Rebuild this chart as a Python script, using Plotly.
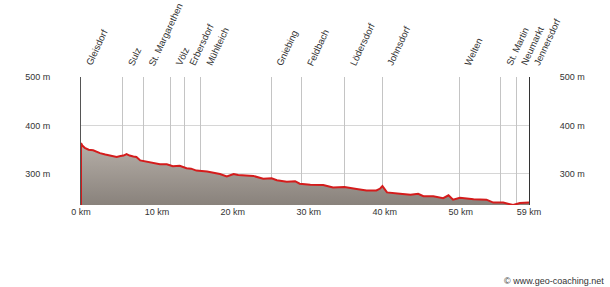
import plotly.graph_objects as go

dist_km = [0, 0.2, 0.5, 1.0, 1.6, 2.0, 2.5, 3.2, 3.8, 4.3, 4.7, 5.2, 5.6, 6.0, 6.4,
           6.9, 7.3, 7.8, 8.4, 9.1, 9.7, 10.4, 11.3, 12.1, 13.0, 13.9, 14.5, 15.2,
           16.6, 17.5, 18.3, 19.2, 20.1, 20.7, 21.4, 22.7, 24.0, 25.1, 25.8, 27.1,
           28.2, 28.8, 30.2, 31.9, 33.2, 34.7, 36.3, 37.6, 38.9, 39.4, 39.7, 40.3,
           42.0, 43.4, 44.4, 45.1, 46.4, 47.7, 48.4, 49.0, 49.9, 51.7, 53.4, 54.3,
           55.6, 56.9, 57.8, 58.5, 59.0]
elev_m = [364, 358, 354, 350, 349, 346, 343, 340, 338, 337, 335, 337, 338, 341, 338,
          336, 335, 328, 326, 324, 322, 320, 320, 316, 317, 312, 311, 307, 305, 303,
          300, 295, 300, 298, 297, 296, 290, 291, 287, 284, 285, 280, 278, 277, 272,
          273, 269, 266, 266, 270, 275, 262, 259, 257, 259, 254, 254, 250, 256, 247,
          251, 248, 247, 241, 241, 236, 240, 241, 241]

village_names = ["Gleisdorf", "Sulz", "St. Margarethen", "Völz", "Erbersdorf", "Mühlteich",
                 "Gniebing", "Feldbach", "Lödersdorf", "Johnsdorf", "Welten", "St. Martin",
                 "Neumarkt", "Jennersdorf"]
village_km = [0, 5.5, 8.2, 11.8, 13.6, 15.8, 25.1, 29.1, 34.7, 39.7, 49.9, 55.3, 57.3, 59]

x_ticks = [0, 10, 20, 30, 40, 50, 59]
y_ticks = [300, 400, 500]
y_range = [236, 500]

RED = "#d41c1c"
TXT = "#333333"
FONT = "Liberation Sans, Arial, sans-serif"

fig = go.Figure()
# invisible helper traces to bind the overlay axes
fig.add_trace(go.Scatter(x=[village_km[0]], y=[elev_m[0]], xaxis="x2", mode="markers",
                         marker=dict(opacity=0), hoverinfo="skip", showlegend=False))
fig.add_trace(go.Scatter(x=[dist_km[0]], y=[elev_m[0]], yaxis="y2", mode="markers",
                         marker=dict(opacity=0), hoverinfo="skip", showlegend=False))
fig.add_trace(go.Scatter(
    x=dist_km, y=elev_m, mode="lines", fill="tozeroy",
    line=dict(color=RED, width=2),
    fillgradient=dict(type="vertical",
                      colorscale=[[0, "#3e3835"], [0.55, "#7c756f"], [1, "#b6afa8"]]),
    hoverinfo="skip", showlegend=False))
# left red edge of the profile
fig.add_trace(go.Scatter(
    x=[dist_km[0], dist_km[0]], y=[y_range[0], elev_m[0]], mode="lines",
    line=dict(color=RED, width=2), hoverinfo="skip", showlegend=False))

for name, km in zip(village_names, village_km):
    fig.add_annotation(x=km, y=1, xref="x", yref="paper", text=name, showarrow=False,
                       textangle=-65, xanchor="left", yanchor="bottom", xshift=0, yshift=7,
                       font=dict(family=FONT, size=9.5, color=TXT))

fig.add_annotation(x=1, y=0, xref="paper", yref="paper", text="© www.geo-coaching.net",
                   showarrow=False, xanchor="right", yanchor="middle", xshift=77, yshift=-76,
                   font=dict(family=FONT, size=9, color=TXT))

fig.update_layout(
    width=610, height=287,
    margin=dict(l=81, r=81, t=77, b=82),
    paper_bgcolor="white", plot_bgcolor="white",
    font=dict(family=FONT, size=9, color=TXT),
    xaxis=dict(range=[0, 59], tickvals=x_ticks, ticktext=[f"{v} km" for v in x_ticks],
               showgrid=False, zeroline=False, showline=False, ticks="",
               ticklabelstandoff=0, tickfont=dict(size=9, color=TXT)),
    xaxis2=dict(range=[0, 59], overlaying="x", side="top", tickvals=village_km,
                showticklabels=False, showgrid=True, gridcolor="#c4c4c4", gridwidth=1,
                zeroline=False, ticks="", showline=False),
    yaxis=dict(range=y_range, tickvals=y_ticks, ticktext=[f"{v} m" for v in y_ticks],
               showgrid=True, gridcolor="#d6d6d6", zeroline=False, showline=True,
               linecolor="#555555", linewidth=1, ticks="", ticklabelstandoff=28,
               tickfont=dict(size=9, color=TXT)),
    yaxis2=dict(range=y_range, overlaying="y", side="right", tickvals=y_ticks,
                ticktext=[f"{v} m" for v in y_ticks], showgrid=False, zeroline=False,
                showline=True, linecolor="#333333", linewidth=1, ticks="",
                ticklabelstandoff=28, tickfont=dict(size=9, color=TXT)),
)

fig.write_html("out.html")
